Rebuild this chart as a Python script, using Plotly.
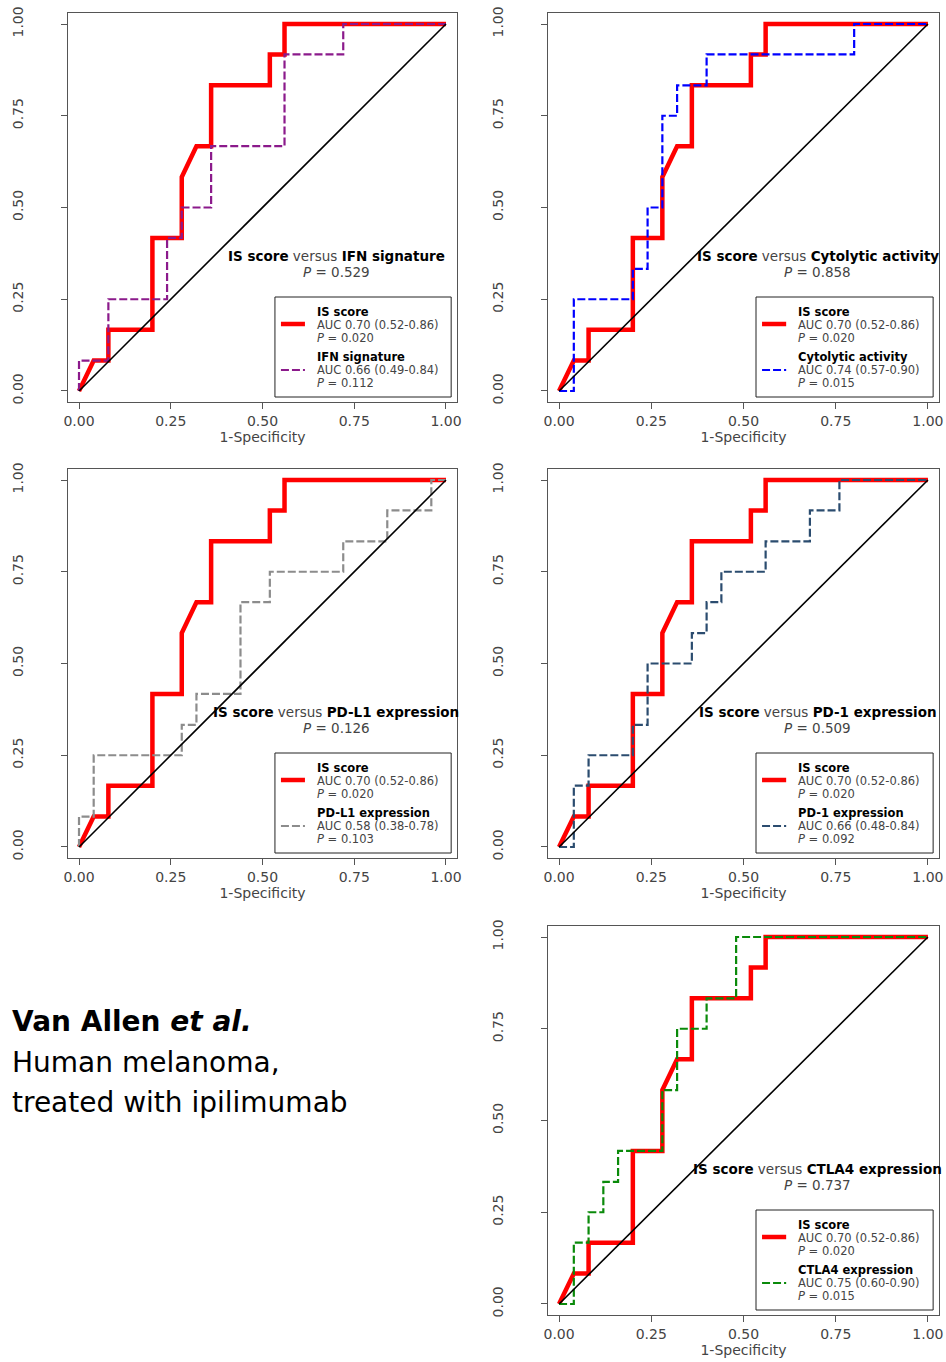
import plotly.graph_objects as go

# ---- ROC data: false positive rate (1-specificity) and sensitivity ----
fpr_is = [0, 0.04, 0.08, 0.08, 0.20, 0.20, 0.28, 0.28, 0.32, 0.36, 0.36, 0.52, 0.52, 0.56, 0.56, 1.00]
tpr_is = [0, 0.083, 0.083, 0.167, 0.167, 0.417, 0.417, 0.583, 0.667, 0.667, 0.833, 0.833, 0.917, 0.917, 1.0, 1.0]

fpr_ifn = [0, 0, 0.08, 0.08, 0.24, 0.24, 0.28, 0.28, 0.36, 0.36, 0.56, 0.56, 0.72, 0.72, 1.00]
tpr_ifn = [0, 0.083, 0.083, 0.250, 0.250, 0.417, 0.417, 0.500, 0.500, 0.667, 0.667, 0.917, 0.917, 1.0, 1.0]

fpr_cyt = [0, 0.04, 0.04, 0.20, 0.20, 0.24, 0.24, 0.28, 0.28, 0.32, 0.32, 0.40, 0.40, 0.80, 0.80, 1.00]
tpr_cyt = [0, 0, 0.250, 0.250, 0.333, 0.333, 0.500, 0.500, 0.750, 0.750, 0.833, 0.833, 0.917, 0.917, 1.0, 1.0]

fpr_pdl1 = [0, 0, 0.04, 0.04, 0.28, 0.28, 0.32, 0.32, 0.44, 0.44, 0.52, 0.52, 0.72, 0.72, 0.84, 0.84, 0.96, 0.96, 1.00]
tpr_pdl1 = [0, 0.083, 0.083, 0.250, 0.250, 0.333, 0.333, 0.417, 0.417, 0.667, 0.667, 0.750, 0.750, 0.833, 0.833,
            0.917, 0.917, 1.0, 1.0]

fpr_pd1 = [0, 0.04, 0.04, 0.08, 0.08, 0.20, 0.20, 0.24, 0.24, 0.36, 0.36, 0.40, 0.40, 0.44, 0.44, 0.56, 0.56,
           0.68, 0.68, 0.76, 0.76, 1.00]
tpr_pd1 = [0, 0, 0.167, 0.167, 0.250, 0.250, 0.333, 0.333, 0.500, 0.500, 0.583, 0.583, 0.667, 0.667, 0.750,
           0.750, 0.833, 0.833, 0.917, 0.917, 1.0, 1.0]

fpr_ctla4 = [0, 0.04, 0.04, 0.08, 0.08, 0.12, 0.12, 0.16, 0.16, 0.28, 0.28, 0.32, 0.32, 0.40, 0.40, 0.48, 0.48, 1.00]
tpr_ctla4 = [0, 0, 0.167, 0.167, 0.250, 0.250, 0.333, 0.333, 0.417, 0.417, 0.583, 0.583, 0.750, 0.750, 0.833,
             0.833, 1.0, 1.0]

# ---- labels ----
is_name = "IS score"
is_auc = "AUC 0.70 (0.52-0.86)"
is_p = "0.020"

comp_names = ["IFN signature", "Cytolytic activity", "PD-L1 expression", "PD-1 expression", "CTLA4 expression"]
comp_auc = ["AUC 0.66 (0.49-0.84)", "AUC 0.74 (0.57-0.90)", "AUC 0.58 (0.38-0.78)",
            "AUC 0.66 (0.48-0.84)", "AUC 0.75 (0.60-0.90)"]
comp_p = ["0.112", "0.015", "0.103", "0.092", "0.015"]
versus_p = ["0.529", "0.858", "0.126", "0.509", "0.737"]
comp_fpr = [fpr_ifn, fpr_cyt, fpr_pdl1, fpr_pd1, fpr_ctla4]
comp_tpr = [tpr_ifn, tpr_cyt, tpr_pdl1, tpr_pd1, tpr_ctla4]
comp_colors = ["#8B1A8B", "#0000FF", "#8C8C8C", "#2B4C6F", "#0A8A0A"]

tick_vals = [0, 0.25, 0.5, 0.75, 1.0]
tick_text = ["0.00", "0.25", "0.50", "0.75", "1.00"]

# ---- page geometry (pixels) ----
W, H = 946, 1362
col_px = [(68, 457), (548, 939)]
row_px = [(13, 402), (469, 858), (926, 1315)]
panel_cells = [(0, 0), (0, 1), (1, 0), (1, 1), (2, 1)]

FONT = "DejaVu Sans"
DASH = "8px,3px"
RED = "#FF0000"

fig = go.Figure()
layout = dict(width=W, height=H, margin=dict(l=0, r=0, t=0, b=0, autoexpand=False),
              paper_bgcolor="white", plot_bgcolor="white", showlegend=False,
              font=dict(family=FONT, color="#444444"))
annotations = []
shapes = []


def frac_y(offset_px):
    # vertical offset measured from the top of a 389px frame, as a domain fraction
    return 1 - offset_px / 389.0


for i, (r, c) in enumerate(panel_cells):
    sfx = "" if i == 0 else str(i + 1)
    xa, ya = f"x{sfx}", f"y{sfx}"
    xd = [col_px[c][0] / W, col_px[c][1] / W]
    yd = [1 - row_px[r][1] / H, 1 - row_px[r][0] / H]
    axis_common = dict(range=[-0.03, 1.03], showgrid=False, zeroline=False, showline=True, mirror=True,
                       automargin=False,
                       linecolor="#555555", linewidth=1, ticks="outside", ticklen=6, tickcolor="#555555",
                       tickwidth=1, tickvals=tick_vals, ticktext=tick_text,
                       tickfont=dict(family=FONT, size=14, color="#444444"))
    layout[f"xaxis{sfx}"] = dict(axis_common, domain=xd, anchor=ya,
                                 title=dict(text="1-Specificity", standoff=0,
                                            font=dict(family=FONT, size=14, color="#444444")))
    layout[f"yaxis{sfx}"] = dict(axis_common, domain=yd, anchor=xa, tickangle=-90, ticklabelstandoff=32)

    # IS score curve
    fig.add_trace(go.Scatter(x=fpr_is, y=tpr_is, mode="lines", xaxis=xa, yaxis=ya,
                             line=dict(color=RED, width=4.5), hoverinfo="skip"))
    # comparison curve
    fig.add_trace(go.Scatter(x=comp_fpr[i], y=comp_tpr[i], mode="lines", xaxis=xa, yaxis=ya,
                             line=dict(color=comp_colors[i], width=2.2, dash=DASH), hoverinfo="skip"))
    # chance diagonal
    fig.add_trace(go.Scatter(x=[0, 1], y=[0, 1], mode="lines", xaxis=xa, yaxis=ya,
                             line=dict(color="black", width=1.6), hoverinfo="skip"))

    xr, yr = f"{xa} domain", f"{ya} domain"

    # panel heading
    annotations.append(dict(
        xref=xr, yref=yr, x=0.69, y=frac_y(243), showarrow=False, xanchor="center", yanchor="middle",
        text=f"<b><span style='color:black'>{is_name}</span></b> versus "
             f"<b><span style='color:black'>{comp_names[i]}</span></b>",
        font=dict(family=FONT, size=13.5, color="#444444")))
    annotations.append(dict(
        xref=xr, yref=yr, x=0.69, y=frac_y(259), showarrow=False, xanchor="center", yanchor="middle",
        text=f"<i>P</i> = {versus_p[i]}", font=dict(family=FONT, size=13.5, color="#444444")))

    # legend box
    bx0, bx1 = 0.532, 0.985
    shapes.append(dict(type="rect", xref=xr, yref=yr, x0=bx0, x1=bx1, y0=frac_y(384), y1=frac_y(284),
                       line=dict(color="#222222", width=1), fillcolor="rgba(0,0,0,0)"))
    sx0, sx1 = bx0 + 6 / 389, bx0 + 30 / 389
    tx = bx0 + 40 / 389
    shapes.append(dict(type="line", xref=xr, yref=yr, x0=sx0, x1=sx1, y0=frac_y(311), y1=frac_y(311),
                       line=dict(color=RED, width=4.5)))
    shapes.append(dict(type="line", xref=xr, yref=yr, x0=sx0, x1=sx1, y0=frac_y(357), y1=frac_y(357),
                       line=dict(color=comp_colors[i], width=2.2, dash=DASH)))
    legend_lines = [
        (299, f"<b><span style='color:black'>{is_name}</span></b>"),
        (312, is_auc),
        (325, f"<i>P</i> = {is_p}"),
        (344, f"<b><span style='color:black'>{comp_names[i]}</span></b>"),
        (357, comp_auc[i]),
        (370, f"<i>P</i> = {comp_p[i]}"),
    ]
    for off, txt in legend_lines:
        annotations.append(dict(xref=xr, yref=yr, x=tx, y=frac_y(off), showarrow=False,
                                xanchor="left", yanchor="middle", text=txt,
                                font=dict(family=FONT, size=11.5, color="#444444")))

# dataset caption
caption = [
    (1022, "<b>Van Allen <i>et al.</i></b>"),
    (1062, "Human melanoma,"),
    (1102, "treated with ipilimumab"),
]
for ypx, txt in caption:
    annotations.append(dict(xref="paper", yref="paper", x=10 / W, y=1 - ypx / H, showarrow=False,
                            xanchor="left", yanchor="middle", text=txt,
                            font=dict(family=FONT, size=28, color="black")))

layout["annotations"] = annotations
layout["shapes"] = shapes
fig.update_layout(**layout)
fig.write_html("out.html")
